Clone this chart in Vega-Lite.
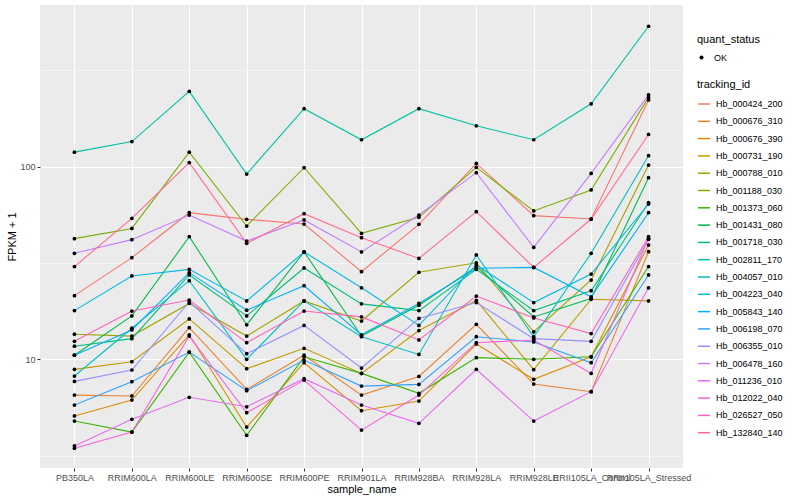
{
"$schema":"https://vega.github.io/schema/vega-lite/v6.json",
"width":643,"height":463,
"autosize":{"type":"none"},
"padding":{"left":40,"top":5,"right":117,"bottom":32},
"background":"white",
"config":{
 "font":"Liberation Sans",
 "view":{"fill":"#EBEBEB","stroke":null},
 "axis":{"domain":false,"tickColor":"#333333","tickSize":3,"labelColor":"#4D4D4D","labelFontSize":9,"titleFontSize":11,"titleFontWeight":"normal","titleColor":"black","gridColor":"white"},
 "legend":{"labelFontSize":9,"titleFontSize":11,"titleFontWeight":"normal","labelColor":"black","titleColor":"black"}
},
"datasets":{"d":[
{"tracking_id":"Hb_000424_200","sample_name":"PB350LA","value":21.4,"quant_status":"OK"},
{"tracking_id":"Hb_000424_200","sample_name":"RRIM600LA","value":33.7,"quant_status":"OK"},
{"tracking_id":"Hb_000424_200","sample_name":"RRIM600LE","value":57.7,"quant_status":"OK"},
{"tracking_id":"Hb_000424_200","sample_name":"RRIM600SE","value":53.3,"quant_status":"OK"},
{"tracking_id":"Hb_000424_200","sample_name":"RRIM600PE","value":50.4,"quant_status":"OK"},
{"tracking_id":"Hb_000424_200","sample_name":"RRIM901LA","value":28.5,"quant_status":"OK"},
{"tracking_id":"Hb_000424_200","sample_name":"RRIM928BA","value":50.2,"quant_status":"OK"},
{"tracking_id":"Hb_000424_200","sample_name":"RRIM928LA","value":104,"quant_status":"OK"},
{"tracking_id":"Hb_000424_200","sample_name":"RRIM928LE","value":55.7,"quant_status":"OK"},
{"tracking_id":"Hb_000424_200","sample_name":"RRII105LA_Control","value":53.5,"quant_status":"OK"},
{"tracking_id":"Hb_000424_200","sample_name":"RRII105LA_Stressed","value":222,"quant_status":"OK"},
{"tracking_id":"Hb_000676_310","sample_name":"PB350LA","value":6.52,"quant_status":"OK"},
{"tracking_id":"Hb_000676_310","sample_name":"RRIM600LA","value":6.45,"quant_status":"OK"},
{"tracking_id":"Hb_000676_310","sample_name":"RRIM600LE","value":14.6,"quant_status":"OK"},
{"tracking_id":"Hb_000676_310","sample_name":"RRIM600SE","value":6.98,"quant_status":"OK"},
{"tracking_id":"Hb_000676_310","sample_name":"RRIM600PE","value":10.5,"quant_status":"OK"},
{"tracking_id":"Hb_000676_310","sample_name":"RRIM901LA","value":6.52,"quant_status":"OK"},
{"tracking_id":"Hb_000676_310","sample_name":"RRIM928BA","value":8.15,"quant_status":"OK"},
{"tracking_id":"Hb_000676_310","sample_name":"RRIM928LA","value":15.2,"quant_status":"OK"},
{"tracking_id":"Hb_000676_310","sample_name":"RRIM928LE","value":7.44,"quant_status":"OK"},
{"tracking_id":"Hb_000676_310","sample_name":"RRII105LA_Control","value":6.79,"quant_status":"OK"},
{"tracking_id":"Hb_000676_310","sample_name":"RRII105LA_Stressed","value":36.2,"quant_status":"OK"},
{"tracking_id":"Hb_000676_390","sample_name":"PB350LA","value":5.08,"quant_status":"OK"},
{"tracking_id":"Hb_000676_390","sample_name":"RRIM600LA","value":6.14,"quant_status":"OK"},
{"tracking_id":"Hb_000676_390","sample_name":"RRIM600LE","value":13.4,"quant_status":"OK"},
{"tracking_id":"Hb_000676_390","sample_name":"RRIM600SE","value":4.45,"quant_status":"OK"},
{"tracking_id":"Hb_000676_390","sample_name":"RRIM600PE","value":9.6,"quant_status":"OK"},
{"tracking_id":"Hb_000676_390","sample_name":"RRIM901LA","value":5.41,"quant_status":"OK"},
{"tracking_id":"Hb_000676_390","sample_name":"RRIM928BA","value":6.07,"quant_status":"OK"},
{"tracking_id":"Hb_000676_390","sample_name":"RRIM928LA","value":12.0,"quant_status":"OK"},
{"tracking_id":"Hb_000676_390","sample_name":"RRIM928LE","value":7.87,"quant_status":"OK"},
{"tracking_id":"Hb_000676_390","sample_name":"RRII105LA_Control","value":10.3,"quant_status":"OK"},
{"tracking_id":"Hb_000676_390","sample_name":"RRII105LA_Stressed","value":39.2,"quant_status":"OK"},
{"tracking_id":"Hb_000731_190","sample_name":"PB350LA","value":8.87,"quant_status":"OK"},
{"tracking_id":"Hb_000731_190","sample_name":"RRIM600LA","value":9.72,"quant_status":"OK"},
{"tracking_id":"Hb_000731_190","sample_name":"RRIM600LE","value":16.2,"quant_status":"OK"},
{"tracking_id":"Hb_000731_190","sample_name":"RRIM600SE","value":8.94,"quant_status":"OK"},
{"tracking_id":"Hb_000731_190","sample_name":"RRIM600PE","value":11.4,"quant_status":"OK"},
{"tracking_id":"Hb_000731_190","sample_name":"RRIM901LA","value":8.45,"quant_status":"OK"},
{"tracking_id":"Hb_000731_190","sample_name":"RRIM928BA","value":14.1,"quant_status":"OK"},
{"tracking_id":"Hb_000731_190","sample_name":"RRIM928LA","value":20.2,"quant_status":"OK"},
{"tracking_id":"Hb_000731_190","sample_name":"RRIM928LE","value":8.83,"quant_status":"OK"},
{"tracking_id":"Hb_000731_190","sample_name":"RRII105LA_Control","value":20.5,"quant_status":"OK"},
{"tracking_id":"Hb_000731_190","sample_name":"RRII105LA_Stressed","value":20.1,"quant_status":"OK"},
{"tracking_id":"Hb_000788_010","sample_name":"PB350LA","value":13.5,"quant_status":"OK"},
{"tracking_id":"Hb_000788_010","sample_name":"RRIM600LA","value":13.2,"quant_status":"OK"},
{"tracking_id":"Hb_000788_010","sample_name":"RRIM600LE","value":19.5,"quant_status":"OK"},
{"tracking_id":"Hb_000788_010","sample_name":"RRIM600SE","value":13.2,"quant_status":"OK"},
{"tracking_id":"Hb_000788_010","sample_name":"RRIM600PE","value":20.1,"quant_status":"OK"},
{"tracking_id":"Hb_000788_010","sample_name":"RRIM901LA","value":15.8,"quant_status":"OK"},
{"tracking_id":"Hb_000788_010","sample_name":"RRIM928BA","value":28.3,"quant_status":"OK"},
{"tracking_id":"Hb_000788_010","sample_name":"RRIM928LA","value":31.7,"quant_status":"OK"},
{"tracking_id":"Hb_000788_010","sample_name":"RRIM928LE","value":13.9,"quant_status":"OK"},
{"tracking_id":"Hb_000788_010","sample_name":"RRII105LA_Control","value":25.8,"quant_status":"OK"},
{"tracking_id":"Hb_000788_010","sample_name":"RRII105LA_Stressed","value":102,"quant_status":"OK"},
{"tracking_id":"Hb_001188_030","sample_name":"PB350LA","value":42.3,"quant_status":"OK"},
{"tracking_id":"Hb_001188_030","sample_name":"RRIM600LA","value":47.8,"quant_status":"OK"},
{"tracking_id":"Hb_001188_030","sample_name":"RRIM600LE","value":119,"quant_status":"OK"},
{"tracking_id":"Hb_001188_030","sample_name":"RRIM600SE","value":49.2,"quant_status":"OK"},
{"tracking_id":"Hb_001188_030","sample_name":"RRIM600PE","value":98.8,"quant_status":"OK"},
{"tracking_id":"Hb_001188_030","sample_name":"RRIM901LA","value":45.1,"quant_status":"OK"},
{"tracking_id":"Hb_001188_030","sample_name":"RRIM928BA","value":54.6,"quant_status":"OK"},
{"tracking_id":"Hb_001188_030","sample_name":"RRIM928LA","value":99.2,"quant_status":"OK"},
{"tracking_id":"Hb_001188_030","sample_name":"RRIM928LE","value":58.9,"quant_status":"OK"},
{"tracking_id":"Hb_001188_030","sample_name":"RRII105LA_Control","value":75.7,"quant_status":"OK"},
{"tracking_id":"Hb_001188_030","sample_name":"RRII105LA_Stressed","value":229,"quant_status":"OK"},
{"tracking_id":"Hb_001373_060","sample_name":"PB350LA","value":4.78,"quant_status":"OK"},
{"tracking_id":"Hb_001373_060","sample_name":"RRIM600LA","value":4.19,"quant_status":"OK"},
{"tracking_id":"Hb_001373_060","sample_name":"RRIM600LE","value":10.9,"quant_status":"OK"},
{"tracking_id":"Hb_001373_060","sample_name":"RRIM600SE","value":4.03,"quant_status":"OK"},
{"tracking_id":"Hb_001373_060","sample_name":"RRIM600PE","value":10.3,"quant_status":"OK"},
{"tracking_id":"Hb_001373_060","sample_name":"RRIM901LA","value":8.45,"quant_status":"OK"},
{"tracking_id":"Hb_001373_060","sample_name":"RRIM928BA","value":6.66,"quant_status":"OK"},
{"tracking_id":"Hb_001373_060","sample_name":"RRIM928LA","value":10.2,"quant_status":"OK"},
{"tracking_id":"Hb_001373_060","sample_name":"RRIM928LE","value":10.0,"quant_status":"OK"},
{"tracking_id":"Hb_001373_060","sample_name":"RRII105LA_Control","value":10.3,"quant_status":"OK"},
{"tracking_id":"Hb_001373_060","sample_name":"RRII105LA_Stressed","value":30.3,"quant_status":"OK"},
{"tracking_id":"Hb_001431_080","sample_name":"PB350LA","value":10.5,"quant_status":"OK"},
{"tracking_id":"Hb_001431_080","sample_name":"RRIM600LA","value":16.8,"quant_status":"OK"},
{"tracking_id":"Hb_001431_080","sample_name":"RRIM600LE","value":43.3,"quant_status":"OK"},
{"tracking_id":"Hb_001431_080","sample_name":"RRIM600SE","value":15.1,"quant_status":"OK"},
{"tracking_id":"Hb_001431_080","sample_name":"RRIM600PE","value":36.1,"quant_status":"OK"},
{"tracking_id":"Hb_001431_080","sample_name":"RRIM901LA","value":13.2,"quant_status":"OK"},
{"tracking_id":"Hb_001431_080","sample_name":"RRIM928BA","value":19.1,"quant_status":"OK"},
{"tracking_id":"Hb_001431_080","sample_name":"RRIM928LA","value":30.3,"quant_status":"OK"},
{"tracking_id":"Hb_001431_080","sample_name":"RRIM928LE","value":16.6,"quant_status":"OK"},
{"tracking_id":"Hb_001431_080","sample_name":"RRII105LA_Control","value":20.7,"quant_status":"OK"},
{"tracking_id":"Hb_001431_080","sample_name":"RRII105LA_Stressed","value":87.7,"quant_status":"OK"},
{"tracking_id":"Hb_001718_030","sample_name":"PB350LA","value":11.7,"quant_status":"OK"},
{"tracking_id":"Hb_001718_030","sample_name":"RRIM600LA","value":12.8,"quant_status":"OK"},
{"tracking_id":"Hb_001718_030","sample_name":"RRIM600LE","value":27.4,"quant_status":"OK"},
{"tracking_id":"Hb_001718_030","sample_name":"RRIM600SE","value":16.8,"quant_status":"OK"},
{"tracking_id":"Hb_001718_030","sample_name":"RRIM600PE","value":29.8,"quant_status":"OK"},
{"tracking_id":"Hb_001718_030","sample_name":"RRIM901LA","value":19.4,"quant_status":"OK"},
{"tracking_id":"Hb_001718_030","sample_name":"RRIM928BA","value":17.9,"quant_status":"OK"},
{"tracking_id":"Hb_001718_030","sample_name":"RRIM928LA","value":29.3,"quant_status":"OK"},
{"tracking_id":"Hb_001718_030","sample_name":"RRIM928LE","value":17.9,"quant_status":"OK"},
{"tracking_id":"Hb_001718_030","sample_name":"RRII105LA_Control","value":22.7,"quant_status":"OK"},
{"tracking_id":"Hb_001718_030","sample_name":"RRII105LA_Stressed","value":65.0,"quant_status":"OK"},
{"tracking_id":"Hb_002811_170","sample_name":"PB350LA","value":119,"quant_status":"OK"},
{"tracking_id":"Hb_002811_170","sample_name":"RRIM600LA","value":135,"quant_status":"OK"},
{"tracking_id":"Hb_002811_170","sample_name":"RRIM600LE","value":246,"quant_status":"OK"},
{"tracking_id":"Hb_002811_170","sample_name":"RRIM600SE","value":91.6,"quant_status":"OK"},
{"tracking_id":"Hb_002811_170","sample_name":"RRIM600PE","value":200,"quant_status":"OK"},
{"tracking_id":"Hb_002811_170","sample_name":"RRIM901LA","value":138,"quant_status":"OK"},
{"tracking_id":"Hb_002811_170","sample_name":"RRIM928BA","value":200,"quant_status":"OK"},
{"tracking_id":"Hb_002811_170","sample_name":"RRIM928LA","value":163,"quant_status":"OK"},
{"tracking_id":"Hb_002811_170","sample_name":"RRIM928LE","value":138,"quant_status":"OK"},
{"tracking_id":"Hb_002811_170","sample_name":"RRII105LA_Control","value":212,"quant_status":"OK"},
{"tracking_id":"Hb_002811_170","sample_name":"RRII105LA_Stressed","value":536,"quant_status":"OK"},
{"tracking_id":"Hb_004057_010","sample_name":"PB350LA","value":8.19,"quant_status":"OK"},
{"tracking_id":"Hb_004057_010","sample_name":"RRIM600LA","value":14.5,"quant_status":"OK"},
{"tracking_id":"Hb_004057_010","sample_name":"RRIM600LE","value":25.6,"quant_status":"OK"},
{"tracking_id":"Hb_004057_010","sample_name":"RRIM600SE","value":10.0,"quant_status":"OK"},
{"tracking_id":"Hb_004057_010","sample_name":"RRIM600PE","value":20.1,"quant_status":"OK"},
{"tracking_id":"Hb_004057_010","sample_name":"RRIM901LA","value":13.1,"quant_status":"OK"},
{"tracking_id":"Hb_004057_010","sample_name":"RRIM928BA","value":10.6,"quant_status":"OK"},
{"tracking_id":"Hb_004057_010","sample_name":"RRIM928LA","value":34.8,"quant_status":"OK"},
{"tracking_id":"Hb_004057_010","sample_name":"RRIM928LE","value":13.1,"quant_status":"OK"},
{"tracking_id":"Hb_004057_010","sample_name":"RRII105LA_Control","value":35.5,"quant_status":"OK"},
{"tracking_id":"Hb_004057_010","sample_name":"RRII105LA_Stressed","value":114,"quant_status":"OK"},
{"tracking_id":"Hb_004223_040","sample_name":"PB350LA","value":17.9,"quant_status":"OK"},
{"tracking_id":"Hb_004223_040","sample_name":"RRIM600LA","value":27.1,"quant_status":"OK"},
{"tracking_id":"Hb_004223_040","sample_name":"RRIM600LE","value":29.3,"quant_status":"OK"},
{"tracking_id":"Hb_004223_040","sample_name":"RRIM600SE","value":20.1,"quant_status":"OK"},
{"tracking_id":"Hb_004223_040","sample_name":"RRIM600PE","value":36.1,"quant_status":"OK"},
{"tracking_id":"Hb_004223_040","sample_name":"RRIM901LA","value":23.5,"quant_status":"OK"},
{"tracking_id":"Hb_004223_040","sample_name":"RRIM928BA","value":15.0,"quant_status":"OK"},
{"tracking_id":"Hb_004223_040","sample_name":"RRIM928LA","value":30.9,"quant_status":"OK"},
{"tracking_id":"Hb_004223_040","sample_name":"RRIM928LE","value":19.7,"quant_status":"OK"},
{"tracking_id":"Hb_004223_040","sample_name":"RRII105LA_Control","value":27.7,"quant_status":"OK"},
{"tracking_id":"Hb_004223_040","sample_name":"RRII105LA_Stressed","value":64.0,"quant_status":"OK"},
{"tracking_id":"Hb_005843_140","sample_name":"PB350LA","value":10.5,"quant_status":"OK"},
{"tracking_id":"Hb_005843_140","sample_name":"RRIM600LA","value":14.2,"quant_status":"OK"},
{"tracking_id":"Hb_005843_140","sample_name":"RRIM600LE","value":28.2,"quant_status":"OK"},
{"tracking_id":"Hb_005843_140","sample_name":"RRIM600SE","value":18.0,"quant_status":"OK"},
{"tracking_id":"Hb_005843_140","sample_name":"RRIM600PE","value":24.1,"quant_status":"OK"},
{"tracking_id":"Hb_005843_140","sample_name":"RRIM901LA","value":13.4,"quant_status":"OK"},
{"tracking_id":"Hb_005843_140","sample_name":"RRIM928BA","value":19.5,"quant_status":"OK"},
{"tracking_id":"Hb_005843_140","sample_name":"RRIM928LA","value":29.7,"quant_status":"OK"},
{"tracking_id":"Hb_005843_140","sample_name":"RRIM928LE","value":30.0,"quant_status":"OK"},
{"tracking_id":"Hb_005843_140","sample_name":"RRII105LA_Control","value":21.1,"quant_status":"OK"},
{"tracking_id":"Hb_005843_140","sample_name":"RRII105LA_Stressed","value":57.7,"quant_status":"OK"},
{"tracking_id":"Hb_006198_070","sample_name":"PB350LA","value":5.79,"quant_status":"OK"},
{"tracking_id":"Hb_006198_070","sample_name":"RRIM600LA","value":7.65,"quant_status":"OK"},
{"tracking_id":"Hb_006198_070","sample_name":"RRIM600LE","value":10.9,"quant_status":"OK"},
{"tracking_id":"Hb_006198_070","sample_name":"RRIM600SE","value":6.87,"quant_status":"OK"},
{"tracking_id":"Hb_006198_070","sample_name":"RRIM600PE","value":9.91,"quant_status":"OK"},
{"tracking_id":"Hb_006198_070","sample_name":"RRIM901LA","value":7.26,"quant_status":"OK"},
{"tracking_id":"Hb_006198_070","sample_name":"RRIM928BA","value":7.41,"quant_status":"OK"},
{"tracking_id":"Hb_006198_070","sample_name":"RRIM928LA","value":13.1,"quant_status":"OK"},
{"tracking_id":"Hb_006198_070","sample_name":"RRIM928LE","value":12.3,"quant_status":"OK"},
{"tracking_id":"Hb_006198_070","sample_name":"RRII105LA_Control","value":9.6,"quant_status":"OK"},
{"tracking_id":"Hb_006198_070","sample_name":"RRII105LA_Stressed","value":27.4,"quant_status":"OK"},
{"tracking_id":"Hb_006355_010","sample_name":"PB350LA","value":7.68,"quant_status":"OK"},
{"tracking_id":"Hb_006355_010","sample_name":"RRIM600LA","value":8.8,"quant_status":"OK"},
{"tracking_id":"Hb_006355_010","sample_name":"RRIM600LE","value":19.9,"quant_status":"OK"},
{"tracking_id":"Hb_006355_010","sample_name":"RRIM600SE","value":10.7,"quant_status":"OK"},
{"tracking_id":"Hb_006355_010","sample_name":"RRIM600PE","value":15.0,"quant_status":"OK"},
{"tracking_id":"Hb_006355_010","sample_name":"RRIM901LA","value":9.01,"quant_status":"OK"},
{"tracking_id":"Hb_006355_010","sample_name":"RRIM928BA","value":16.3,"quant_status":"OK"},
{"tracking_id":"Hb_006355_010","sample_name":"RRIM928LA","value":19.7,"quant_status":"OK"},
{"tracking_id":"Hb_006355_010","sample_name":"RRIM928LE","value":12.8,"quant_status":"OK"},
{"tracking_id":"Hb_006355_010","sample_name":"RRII105LA_Control","value":12.4,"quant_status":"OK"},
{"tracking_id":"Hb_006355_010","sample_name":"RRII105LA_Stressed","value":42.0,"quant_status":"OK"},
{"tracking_id":"Hb_006478_160","sample_name":"PB350LA","value":35.5,"quant_status":"OK"},
{"tracking_id":"Hb_006478_160","sample_name":"RRIM600LA","value":41.8,"quant_status":"OK"},
{"tracking_id":"Hb_006478_160","sample_name":"RRIM600LE","value":56.1,"quant_status":"OK"},
{"tracking_id":"Hb_006478_160","sample_name":"RRIM600SE","value":41.1,"quant_status":"OK"},
{"tracking_id":"Hb_006478_160","sample_name":"RRIM600PE","value":52.9,"quant_status":"OK"},
{"tracking_id":"Hb_006478_160","sample_name":"RRIM901LA","value":36.1,"quant_status":"OK"},
{"tracking_id":"Hb_006478_160","sample_name":"RRIM928BA","value":56.1,"quant_status":"OK"},
{"tracking_id":"Hb_006478_160","sample_name":"RRIM928LA","value":93.1,"quant_status":"OK"},
{"tracking_id":"Hb_006478_160","sample_name":"RRIM928LE","value":38.1,"quant_status":"OK"},
{"tracking_id":"Hb_006478_160","sample_name":"RRII105LA_Control","value":92.3,"quant_status":"OK"},
{"tracking_id":"Hb_006478_160","sample_name":"RRII105LA_Stressed","value":236,"quant_status":"OK"},
{"tracking_id":"Hb_011236_010","sample_name":"PB350LA","value":3.55,"quant_status":"OK"},
{"tracking_id":"Hb_011236_010","sample_name":"RRIM600LA","value":4.88,"quant_status":"OK"},
{"tracking_id":"Hb_011236_010","sample_name":"RRIM600LE","value":6.35,"quant_status":"OK"},
{"tracking_id":"Hb_011236_010","sample_name":"RRIM600SE","value":5.67,"quant_status":"OK"},
{"tracking_id":"Hb_011236_010","sample_name":"RRIM600PE","value":7.93,"quant_status":"OK"},
{"tracking_id":"Hb_011236_010","sample_name":"RRIM901LA","value":5.79,"quant_status":"OK"},
{"tracking_id":"Hb_011236_010","sample_name":"RRIM928BA","value":4.65,"quant_status":"OK"},
{"tracking_id":"Hb_011236_010","sample_name":"RRIM928LA","value":8.87,"quant_status":"OK"},
{"tracking_id":"Hb_011236_010","sample_name":"RRIM928LE","value":4.78,"quant_status":"OK"},
{"tracking_id":"Hb_011236_010","sample_name":"RRII105LA_Control","value":6.79,"quant_status":"OK"},
{"tracking_id":"Hb_011236_010","sample_name":"RRII105LA_Stressed","value":23.5,"quant_status":"OK"},
{"tracking_id":"Hb_012022_040","sample_name":"PB350LA","value":3.45,"quant_status":"OK"},
{"tracking_id":"Hb_012022_040","sample_name":"RRIM600LA","value":4.19,"quant_status":"OK"},
{"tracking_id":"Hb_012022_040","sample_name":"RRIM600LE","value":13.2,"quant_status":"OK"},
{"tracking_id":"Hb_012022_040","sample_name":"RRIM600SE","value":5.28,"quant_status":"OK"},
{"tracking_id":"Hb_012022_040","sample_name":"RRIM600PE","value":7.8,"quant_status":"OK"},
{"tracking_id":"Hb_012022_040","sample_name":"RRIM901LA","value":4.29,"quant_status":"OK"},
{"tracking_id":"Hb_012022_040","sample_name":"RRIM928BA","value":6.52,"quant_status":"OK"},
{"tracking_id":"Hb_012022_040","sample_name":"RRIM928LA","value":12.2,"quant_status":"OK"},
{"tracking_id":"Hb_012022_040","sample_name":"RRIM928LE","value":12.6,"quant_status":"OK"},
{"tracking_id":"Hb_012022_040","sample_name":"RRII105LA_Control","value":8.45,"quant_status":"OK"},
{"tracking_id":"Hb_012022_040","sample_name":"RRII105LA_Stressed","value":42.5,"quant_status":"OK"},
{"tracking_id":"Hb_026527_050","sample_name":"PB350LA","value":12.4,"quant_status":"OK"},
{"tracking_id":"Hb_026527_050","sample_name":"RRIM600LA","value":17.8,"quant_status":"OK"},
{"tracking_id":"Hb_026527_050","sample_name":"RRIM600LE","value":20.3,"quant_status":"OK"},
{"tracking_id":"Hb_026527_050","sample_name":"RRIM600SE","value":12.2,"quant_status":"OK"},
{"tracking_id":"Hb_026527_050","sample_name":"RRIM600PE","value":17.8,"quant_status":"OK"},
{"tracking_id":"Hb_026527_050","sample_name":"RRIM901LA","value":16.6,"quant_status":"OK"},
{"tracking_id":"Hb_026527_050","sample_name":"RRIM928BA","value":12.6,"quant_status":"OK"},
{"tracking_id":"Hb_026527_050","sample_name":"RRIM928LA","value":21.3,"quant_status":"OK"},
{"tracking_id":"Hb_026527_050","sample_name":"RRIM928LE","value":16.4,"quant_status":"OK"},
{"tracking_id":"Hb_026527_050","sample_name":"RRII105LA_Control","value":13.6,"quant_status":"OK"},
{"tracking_id":"Hb_026527_050","sample_name":"RRII105LA_Stressed","value":43.3,"quant_status":"OK"},
{"tracking_id":"Hb_132840_140","sample_name":"PB350LA","value":30.3,"quant_status":"OK"},
{"tracking_id":"Hb_132840_140","sample_name":"RRIM600LA","value":53.9,"quant_status":"OK"},
{"tracking_id":"Hb_132840_140","sample_name":"RRIM600LE","value":105,"quant_status":"OK"},
{"tracking_id":"Hb_132840_140","sample_name":"RRIM600SE","value":40.0,"quant_status":"OK"},
{"tracking_id":"Hb_132840_140","sample_name":"RRIM600PE","value":57.0,"quant_status":"OK"},
{"tracking_id":"Hb_132840_140","sample_name":"RRIM901LA","value":42.8,"quant_status":"OK"},
{"tracking_id":"Hb_132840_140","sample_name":"RRIM928BA","value":33.4,"quant_status":"OK"},
{"tracking_id":"Hb_132840_140","sample_name":"RRIM928LA","value":58.4,"quant_status":"OK"},
{"tracking_id":"Hb_132840_140","sample_name":"RRIM928LE","value":30.0,"quant_status":"OK"},
{"tracking_id":"Hb_132840_140","sample_name":"RRII105LA_Control","value":53.5,"quant_status":"OK"},
{"tracking_id":"Hb_132840_140","sample_name":"RRII105LA_Stressed","value":147,"quant_status":"OK"}
]},
"data":{"name":"d"},
"layer":[
 {"mark":{"type":"line","strokeWidth":1.1},
  "encoding":{
   "x":{"field":"sample_name","type":"nominal","sort":["PB350LA","RRIM600LA","RRIM600LE","RRIM600SE","RRIM600PE","RRIM901LA","RRIM928BA","RRIM928LA","RRIM928LE","RRII105LA_Control","RRII105LA_Stressed"],"scale":{"type":"point","padding":0.6},
        "axis":{"title":"sample_name","labelAngle":0,"labelOverlap":false,"labelLimit":300,"grid":true,"gridWidth":1.1,"labelPadding":2,"titlePadding":1}},
   "y":{"field":"value","type":"quantitative","scale":{"type":"log","domain":[2.727,691],"nice":false,"zero":false},
        "axis":{"title":"FPKM + 1","values":[10,100],"format":"d","grid":true,"gridWidth":1.1,"labelPadding":2,"titlePadding":2}},
   "color":{"field":"tracking_id","type":"nominal",
     "scale":{"domain":["Hb_000424_200","Hb_000676_310","Hb_000676_390","Hb_000731_190","Hb_000788_010","Hb_001188_030","Hb_001373_060","Hb_001431_080","Hb_001718_030","Hb_002811_170","Hb_004057_010","Hb_004223_040","Hb_005843_140","Hb_006198_070","Hb_006355_010","Hb_006478_160","Hb_011236_010","Hb_012022_040","Hb_026527_050","Hb_132840_140"],
              "range":["#F8766D","#EA8331","#D89000","#C09B00","#A3A500","#7CAE00","#39B600","#00BB4E","#00BF7D","#00C1A3","#00BFC4","#00BAE0","#00B0F6","#35A2FF","#9590FF","#C77CFF","#E76BF3","#FA62DB","#FF62BC","#FF6C91"]},
     "legend":{"title":"tracking_id","orient":"none","legendX":657,"legendY":74,"symbolType":"stroke","symbolStrokeWidth":1.5,"symbolSize":144,"rowPadding":5.3,"titlePadding":7,"labelOffset":5}}
  }},
 {"mark":{"type":"point","filled":true,"size":14,"color":"black","opacity":1},
  "encoding":{
   "x":{"field":"sample_name","type":"nominal","sort":["PB350LA","RRIM600LA","RRIM600LE","RRIM600SE","RRIM600PE","RRIM901LA","RRIM928BA","RRIM928LA","RRIM928LE","RRII105LA_Control","RRII105LA_Stressed"]},
   "y":{"field":"value","type":"quantitative","axis":{"values":[3.1623,31.623,316.23],"grid":true,"gridWidth":0.5,"labels":false,"ticks":false,"title":null,"domain":false}},
   "shape":{"field":"quant_status","type":"nominal","scale":{"range":["circle"]},
     "legend":{"title":"quant_status","orient":"none","legendX":657,"legendY":29,"symbolFillColor":"black","symbolStrokeColor":"black","symbolSize":16,"titlePadding":8,"labelOffset":8}}
  }}
],
"resolve":{"axis":{"y":"independent"}}
}
